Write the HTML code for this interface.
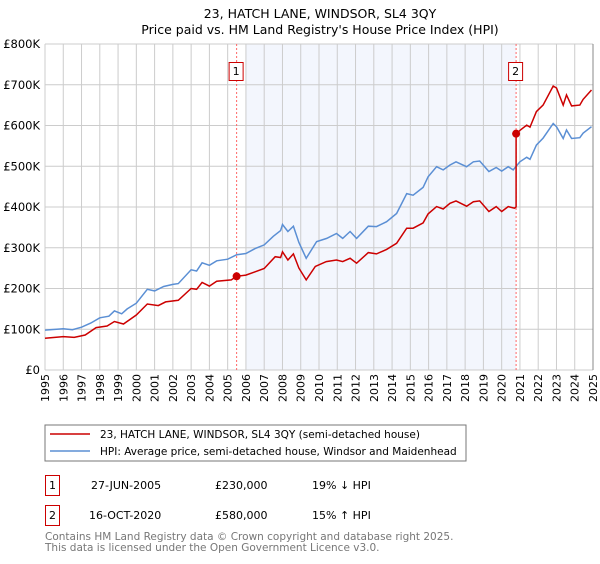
<!DOCTYPE html>
<html><head><meta charset="utf-8"><style>
body{margin:0;background:#fff;font-family:"DejaVu Sans","Liberation Sans",sans-serif;}
svg text{font-family:"DejaVu Sans","Liberation Sans",sans-serif;}
</style></head><body>
<svg id="c" width="600" height="560" xmlns="http://www.w3.org/2000/svg">
<text x="320" y="18" font-size="12.5" text-anchor="middle">23, HATCH LANE, WINDSOR, SL4 3QY</text>
<text x="320" y="34" font-size="12.5" text-anchor="middle">Price paid vs. HM Land Registry's House Price Index (HPI)</text>
<g id="plot"></g>
<rect x="45" y="425" width="421" height="36" fill="#fff" stroke="#777"/>
<line x1="50" y1="434" x2="90" y2="434" stroke="#cc0000" stroke-width="1.5"/>
<text x="100" y="438" font-size="10.5">23, HATCH LANE, WINDSOR, SL4 3QY (semi-detached house)</text>
<line x1="50" y1="451" x2="90" y2="451" stroke="#5b8fd4" stroke-width="1.5"/>
<text x="100" y="455" font-size="10.5">HPI: Average price, semi-detached house, Windsor and Maidenhead</text>
<g font-size="11">
<rect x="45.5" y="475.5" width="14" height="20" fill="none" stroke="#cc0000"/>
<text x="52.5" y="489" text-anchor="middle">1</text>
<text x="91" y="489">27-JUN-2005</text><text x="215" y="489">£230,000</text><text x="312" y="489">19% ↓ HPI</text>
<rect x="45.5" y="505.5" width="14" height="20" fill="none" stroke="#cc0000"/>
<text x="52.5" y="519" text-anchor="middle">2</text>
<text x="89" y="519">16-OCT-2020</text><text x="215" y="519">£580,000</text><text x="312" y="519">15% ↑ HPI</text>
</g>
<text x="45" y="540" font-size="10.5" fill="#777">Contains HM Land Registry data © Crown copyright and database right 2025.</text>
<text x="45" y="551" font-size="10.5" fill="#777">This data is licensed under the Open Government Licence v3.0.</text>
</svg>
<script>
const hpiYears=[1995,1996,1996.5,1997,1997.5,1998,1998.5,1998.8,1999.2,1999.5,2000,2000.6,2001,2001.5,2002,2002.3,2003,2003.3,2003.6,2004,2004.4,2005,2005.5,2006,2006.5,2007,2007.5,2007.9,2008,2008.3,2008.6,2008.9,2009.3,2009.87,2010.42,2010.96,2011.3,2011.7,2012.06,2012.7,2013.15,2013.7,2014.25,2014.8,2015.15,2015.7,2015.97,2016.44,2016.8,2017.17,2017.5,2018.08,2018.45,2018.8,2019.3,2019.7,2020,2020.36,2020.63,2021,2021.37,2021.55,2021.9,2022.27,2022.82,2023,2023.37,2023.55,2023.83,2024.28,2024.46,2024.92];
const hpiValues=[98,101,99,105,115,128,132,145,138,150,164,198,194,205,210,212,246,243,263,257,268,272,283,286,298,307,328,342,357,340,353,313,274,315,323,335,323,340,323,353,352,364,384,433,429,448,474,499,491,503,511,499,511,513,487,497,488,499,491,511,522,517,552,569,605,597,568,589,568,570,581,597];
const redYears=[1995,1996,1996.6,1997.2,1997.8,1998.4,1998.8,1999.3,2000,2000.6,2001.2,2001.6,2002.3,2003,2003.3,2003.6,2004,2004.4,2005.2,2005.49,2006,2006.5,2007,2007.6,2007.9,2008,2008.3,2008.6,2008.9,2009.3,2009.8,2010.4,2010.96,2011.3,2011.7,2012.06,2012.7,2013.15,2013.7,2014.25,2014.8,2015.15,2015.7,2015.97,2016.44,2016.8,2017.17,2017.5,2018.08,2018.45,2018.8,2019.3,2019.7,2020,2020.36,2020.7,2020.79,2020.79,2021,2021.37,2021.55,2021.9,2022.27,2022.82,2023,2023.37,2023.55,2023.83,2024.28,2024.46,2024.92];
const redValues=[78,82,80,86,104,108,119,113,135,162,158,167,171,200,198,215,206,218,221,230,233,241,249,278,276,290,270,285,250,221,254,266,270,266,274,262,288,285,296,311,348,348,361,383,401,395,409,415,402,413,415,389,401,389,401,397,400,580,588,601,596,634,650,697,692,650,675,648,650,664,687];
const saleYears=[2005.49,2020.79];
const saleValues=[230,580];
const saleLabels=["1","2"];
const yTicks=[0,100,200,300,400,500,600,700,800];
const yTickLabels=["£0","£100K","£200K","£300K","£400K","£500K","£600K","£700K","£800K"];
const xTicks=[1995,1996,1997,1998,1999,2000,2001,2002,2003,2004,2005,2006,2007,2008,2009,2010,2011,2012,2013,2014,2015,2016,2017,2018,2019,2020,2021,2022,2023,2024,2025];
const shadeRange=[2006.0,2020.79];
const X0=45,X1=593,Y0=370,Y1=44;
const xs=y=>X0+(y-1995)/30*(X1-X0);
const ys=v=>Y0-v/800*(Y0-Y1);
const NS="http://www.w3.org/2000/svg";
const g=document.getElementById('plot');
function mk(t,a){const e=document.createElementNS(NS,t);for(const k in a)e.setAttribute(k,a[k]);g.appendChild(e);return e;}
let e=mk('rect',{x:X0,y:Y1,width:X1-X0,height:Y0-Y1,fill:'#fff'});


e=mk('rect',{x:xs(shadeRange[0]),y:Y1,width:xs(shadeRange[1])-xs(shadeRange[0]),height:Y0-Y1,fill:'#f3f6fd'});


xTicks.forEach((t,i)=>{
 const l=mk('line',{x1:xs(t),x2:xs(t),y1:Y1,y2:Y0,stroke:'#cccccc','stroke-width':1});
 
 
 const tx=mk('text',{x:0,y:0,'font-size':11,'text-anchor':'end',transform:`translate(${xs(t)+4},374) rotate(-90)`});
 tx.textContent=t;
 
 
});
yTicks.forEach((t,i)=>{
 const l=mk('line',{x1:X0,x2:X1,y1:ys(t),y2:ys(t),stroke:'#cccccc','stroke-width':1});
 
 
 const tx=mk('text',{x:40,y:ys(t)+4,'font-size':11.5,'text-anchor':'end'});
 tx.textContent=yTickLabels[i];
 
 
});
saleYears.forEach((s,i)=>{
 const l=mk('line',{x1:xs(s),x2:xs(s),y1:Y1,y2:Y0,stroke:'#ff6666','stroke-width':1,'stroke-dasharray':'2,2'});
 
 
 const r=mk('rect',{x:xs(s)-7.5,y:62.5,width:14,height:18,fill:'#fff',stroke:'#cc0000'});
 
 
 const t=mk('text',{x:xs(s)-0.5,y:75,'font-size':11,'text-anchor':'middle'});
 t.textContent=saleLabels[i];
 
 
});
function pts(xa,va){return xa.map((x,i)=>xs(x).toFixed(1)+','+ys(va[i]).toFixed(1)).join(' ');}
e=mk('polyline',{points:pts(hpiYears,hpiValues),fill:'none',stroke:'#5b8fd4','stroke-width':1.5});


e=mk('polyline',{points:pts(redYears,redValues),fill:'none',stroke:'#cc0000','stroke-width':1.5});


saleYears.forEach((s,i)=>{
 const c=mk('circle',{cx:xs(s),cy:ys(saleValues[i]),r:4,fill:'#cc0000'});
 
 
});
e=mk('line',{x1:X1,x2:X1,y1:Y1,y2:Y0,stroke:'#888','stroke-width':1});


</script>
</body></html>
